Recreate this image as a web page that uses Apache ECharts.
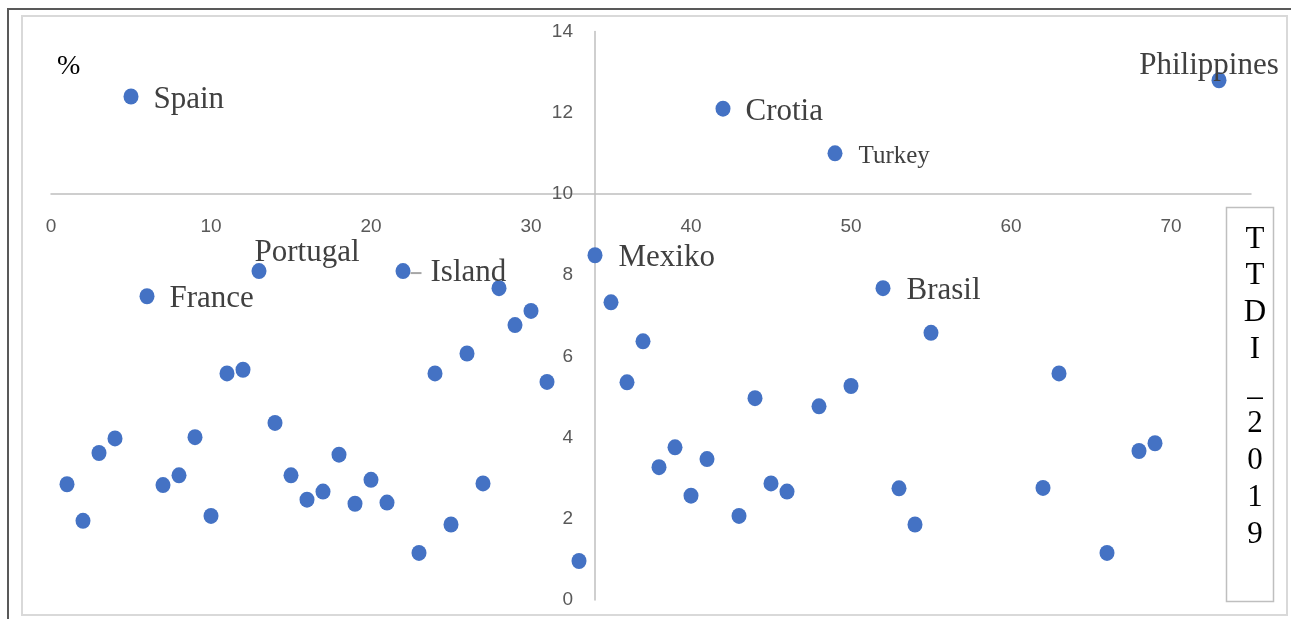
<!DOCTYPE html>
<html>
<head>
<meta charset="utf-8">
<script src="https://cdn.jsdelivr.net/npm/echarts@6/dist/echarts.min.js"></script>
<style>
html,body{margin:0;padding:0;background:#fff;}
#c{width:1291px;height:619px;}
</style>
</head>
<body>
<div id="c"></div>
<script>
// ---- data ----
const xs = [1,2,3,4,5,6,7,8,9,10,11,12,13,14,15,16,17,18,19,20,21,22,23,24,25,26,27,28,29,30,31,
            33,34,35,36,37,38,39,40,41,42,43,44,45,46,48,49,50,52,53,54,55,62,63,66,68,69,73];
const ys = [2.85,1.95,3.62,3.98,12.4,7.48,2.83,3.07,4.01,2.07,5.58,5.67,8.1,4.36,3.07,2.47,2.67,3.58,2.37,2.96,
            2.4,8.1,1.16,5.58,1.86,6.07,2.87,7.68,6.77,7.12,5.37,
            0.96,8.49,7.33,5.36,6.37,3.27,3.76,2.57,3.47,12.1,2.07,4.97,2.87,2.67,4.77,11.0,5.27,7.68,2.75,1.86,6.58,2.76,5.58,1.16,3.67,3.86,12.8];
const names = ['', '', '', '', 'Spain', 'France', '', '', '', '', '', '', 'Portugal', '', '', '', '', '', '', '',
               '', 'Island', '', '', '', '', '', '', '', '', '',
               '', 'Mexiko', '', '', '', '', '', '', '', 'Crotia', '', '', '', '', '', 'Turkey', '', 'Brasil', '', '', '', '', '', '', '', '', 'Philippines'];
const xTicks = [0, 10, 20, 30, 40, 50, 60, 70];
const yTicks = [0, 2, 4, 6, 8, 10, 12, 14];
const xCross = 34;   // value of x where the y axis is drawn
const yCross = 10;   // value of y where the x axis is drawn
const unitLabel = '%';
const sideTitle = 'TTDI_2019';

// ---- styles / layout ----
const W = 1291, H = 619;
const grid = {left: 51, right: 40, top: 31.5, bottom: 19};
const gW = W - grid.left - grid.right, gH = H - grid.top - grid.bottom;
const xMin = 0, xMax = 75, yMin = 0, yMax = 14;
const serif = 'Liberation Serif';
const labelColor = '#404040';
const labelStyles = {
  'Spain':       {position: 'right', distance: 15, offset: [0, 3]},
  'France':      {position: 'right', distance: 15, offset: [0, 3]},
  'Crotia':      {position: 'right', distance: 15, offset: [0, 3]},
  'Mexiko':      {position: 'right', distance: 16, offset: [0, 3]},
  'Brasil':      {position: 'right', distance: 16, offset: [0, 3]},
  'Turkey':      {position: 'right', distance: 16, offset: [0, 3], fontSize: 25},
  'Portugal':    {position: 'inside', offset: [48, -18]},
  'Philippines': {position: 'inside', offset: [-10, -14]},
  'Island':      {position: 'right', distance: 0, offset: [0, 2], rich: true}
};

const data = xs.map((x, i) => {
  const item = {value: [x, ys[i]], name: names[i]};
  const st = labelStyles[names[i]];
  if (names[i] && st) {
    const lab = {
      show: true,
      position: st.position,
      color: labelColor,
      fontFamily: serif,
      fontSize: st.fontSize || 31,
      formatter: '{b}'
    };
    if (st.distance !== undefined) lab.distance = st.distance;
    if (st.offset) lab.offset = st.offset;
    if (st.rich) {
      lab.formatter = '{l|}{t|{b}}';
      lab.rich = {
        l: {width: 11, height: 2, backgroundColor: '#a6a6a6'},
        t: {padding: [0, 0, 0, 9], color: labelColor, fontFamily: serif, fontSize: 31}
      };
    }
    item.label = lab;
  }
  return item;
});

const chart = echarts.init(document.getElementById('c'), null, {renderer: 'canvas'});
const axisLineStyle = {color: '#bfbfbf', width: 1.5};
const axisFont = {color: '#595959', fontFamily: 'Liberation Sans', fontSize: 19};

chart.setOption({
  animation: false,
  backgroundColor: '#fff',
  grid: Object.assign({outerBoundsMode: 'none', containLabel: false}, grid),
  xAxis: {
    type: 'value', min: xMin, max: xMax, interval: 10,
    position: 'bottom',
    offset: -gH * (yCross - yMin) / (yMax - yMin),
    axisLine: {show: true, onZero: false, lineStyle: axisLineStyle},
    axisTick: {show: false},
    splitLine: {show: false},
    axisLabel: Object.assign({
      margin: 23, showMinLabel: true, showMaxLabel: true, hideOverlap: false,
      formatter: v => xTicks.indexOf(v) >= 0 ? String(v) : ''
    }, axisFont)
  },
  yAxis: {
    type: 'value', min: yMin, max: yMax, interval: 2,
    position: 'left',
    offset: -gW * (xCross - xMin) / (xMax - xMin),
    axisLine: {show: true, onZero: false, lineStyle: axisLineStyle},
    axisTick: {show: false},
    splitLine: {show: false},
    axisLabel: Object.assign({
      margin: 22, showMinLabel: true, showMaxLabel: true, hideOverlap: false,
      formatter: v => yTicks.indexOf(v) >= 0 ? String(v) : ''
    }, axisFont)
  },
  graphic: [
    {type: 'polyline', z: -1, shape: {points: [[8, H], [8, 9], [W, 9]]}, style: {stroke: '#595959', lineWidth: 2, fill: null}},
    {type: 'rect', z: -1, shape: {x: 22, y: 16, width: 1265, height: 599}, style: {stroke: '#d9d9d9', lineWidth: 2, fill: null}},
    {type: 'text', left: 57, top: 53, style: {text: unitLabel, fontFamily: serif, fontSize: 28, fill: '#000'}},
    {type: 'rect', shape: {x: 1226.5, y: 207.5, width: 47, height: 394}, style: {stroke: '#bfbfbf', lineWidth: 1.5, fill: '#fff'}},
    {type: 'text', x: 1255, y: 221, style: {
      text: sideTitle.split('').join('\n'), fontFamily: serif, fontSize: 31, lineHeight: 36.9,
      fill: '#000', align: 'center', verticalAlign: 'top'}}
  ],
  series: [{
    type: 'scatter',
    symbol: 'circle',
    symbolSize: [15, 16],
    itemStyle: {color: '#4472C4', opacity: 1},
    label: {show: false},
    emphasis: {disabled: true},
    data: data
  }]
});
</script>
</body>
</html>
